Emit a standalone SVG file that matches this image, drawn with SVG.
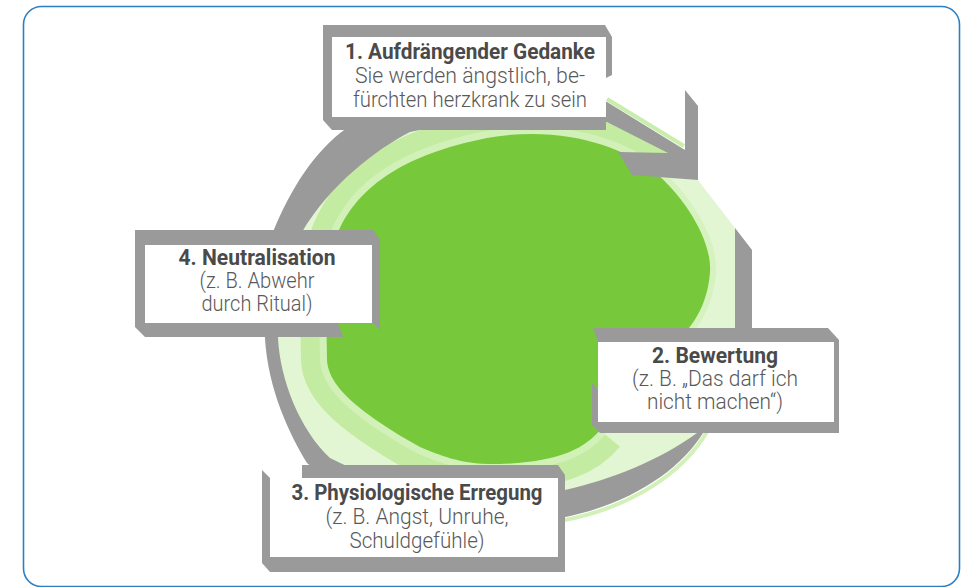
<svg xmlns="http://www.w3.org/2000/svg" width="962" height="587" viewBox="0 0 962 587">
<style>
.frame{fill:none;stroke:#2b7fc3;stroke-width:1.6}
.grey{fill:#999a99}
.inner{fill:#ffffff}
.t{font-family:Roboto,'Liberation Sans',sans-serif;font-size:22px;text-anchor:middle}
.h{font-weight:700;fill:#4a4a4a}
.s{font-weight:300;fill:#595959}
</style>
<rect class="frame" x="23.5" y="6.5" width="936" height="580" rx="18"/>

<g id="blob">
<path d="M735,228 L752,250 L752,330 C752,380 735,410 703,433 C680,470 630,505 560,518 C480,530 360,510 307,463 C290,435 268,390 265,338 C262,290 262,260 273,232 C290,190 315,150 347,128 C390,100 460,92 520,95 L607,102 L685,150 L698,180 Z" fill="#e2f6d3"/>
<path d="M655,172 C620,145 560,125 487,138 C400,155 355,190 337,235 L326,300 L327,360 C328,380 345,405 420,447 C440,455 460,465 500,464 C560,462 585,448 600,430" fill="none" stroke="#c4eba2" stroke-width="52"/>
<path d="M655,172 C620,145 560,125 487,138 C400,155 355,190 337,235 L326,300 L327,360 C328,380 345,405 420,447 C440,455 460,465 500,464 C560,462 585,448 600,430" fill="none" stroke="#d2f1b8" stroke-width="14"/>
<path d="M655,172 C685,198 712,240 710,272 C708,300 697,320 683,335" fill="none" stroke="#d6f2bf" stroke-width="12"/>
<path d="M337,235 C355,190 400,155 487,138 C560,125 620,145 655,172 C685,198 712,240 710,272 C708,300 697,320 683,335 L600,430 C585,448 560,462 500,464 C460,465 440,455 420,447 C345,405 328,380 327,360 L326,300 Z" fill="#77c93b"/>
<path d="M708,430 C684,472 632,508 560,521" fill="none" stroke="#d2f1b9" stroke-width="4"/>
<path d="M607,99 L684,146" fill="none" stroke="#c9eeac" stroke-width="4"/>
</g>

<g id="connectors">
<path class="grey" d="M735,228 L752,250 L752,330 C752,380 735,410 703,433 C680,470 630,505 560,518 C480,530 360,510 307,463 C290,435 268,390 265,338 C262,290 262,260 273,232 C290,190 315,150 347,128 C390,100 460,92 520,95 L520,122 C480,122 440,125 410,132 C375,150 330,185 302,232 C290,260 280,300 278,338 C280,380 300,430 330,458 C400,495 480,495 565,490 C610,480 660,460 697,433 C720,410 735,370 735,330 Z"/>
<path class="grey" d="M515,93 L607,102 L685,150 L685,90 L698,106 L698,180 L632,175 L618,152 L668,153 L607,122 L515,124 Z"/>
</g>

<g id="node1">
<path class="grey" d="M323,25 L605,25 L612,37 L612,75 L606,78 L606,130 L332,130 L323,120 Z"/>
<rect class="inner" x="332" y="37" width="274" height="80"/>
<text class="t h" x="470" y="59" textLength="250" lengthAdjust="spacingAndGlyphs">1. Aufdrängender Gedanke</text>
<text class="t s" x="470" y="83" textLength="230" lengthAdjust="spacingAndGlyphs">Sie werden ängstlich, be-</text>
<text class="t s" x="470" y="107" textLength="234" lengthAdjust="spacingAndGlyphs">fürchten herzkrank zu sein</text>
</g>

<g id="node2">
<path class="grey" d="M593,328 L828,328 L839,340 L839,433 L600,433 L592,425 L592,383 L598,390 L598,342 Z"/>
<rect class="inner" x="598" y="342" width="236" height="80"/>
<text class="t h" x="715" y="363" textLength="126" lengthAdjust="spacingAndGlyphs">2. Bewertung</text>
<text class="t s" x="715" y="386" textLength="166" lengthAdjust="spacingAndGlyphs">(z. B. „Das darf ich</text>
<text class="t s" x="715" y="409" textLength="136" lengthAdjust="spacingAndGlyphs">nicht machen“)</text>
</g>

<g id="node3">
<path class="grey" d="M302,465 L558,465 L565,475 L565,572 L270,572 L262,563 L262,470 L270,478 L302,478 Z"/>
<rect class="inner" x="270" y="478" width="288" height="79"/>
<text class="t h" x="417" y="500" textLength="251" lengthAdjust="spacingAndGlyphs">3. Physiologische Erregung</text>
<text class="t s" x="417" y="524" textLength="183" lengthAdjust="spacingAndGlyphs">(z. B. Angst, Unruhe,</text>
<text class="t s" x="417" y="548" textLength="135" lengthAdjust="spacingAndGlyphs">Schuldgefühle)</text>
</g>

<g id="node4">
<path class="grey" d="M135,230 L373,230 L380,240 L380,330 L373,323 L338,323 L343,337 L145,337 L135,327 Z"/>
<rect class="inner" x="145" y="245" width="227" height="78"/>
<text class="t h" x="257" y="265" textLength="157" lengthAdjust="spacingAndGlyphs">4. Neutralisation</text>
<text class="t s" x="257" y="288" textLength="115" lengthAdjust="spacingAndGlyphs">(z. B. Abwehr</text>
<text class="t s" x="257" y="311" textLength="111" lengthAdjust="spacingAndGlyphs">durch Ritual)</text>
</g>
</svg>
